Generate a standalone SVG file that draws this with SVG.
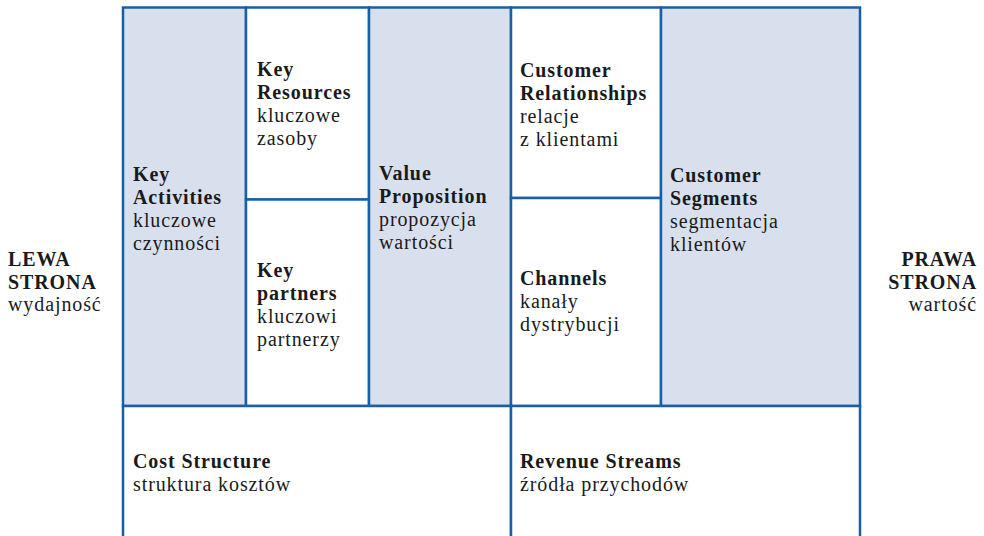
<svg xmlns="http://www.w3.org/2000/svg" width="984" height="536" viewBox="0 0 984 536" font-family="'Liberation Serif', 'DejaVu Serif', serif">
  <style>
    .cell { stroke: #1860a6; stroke-width: 2.5; }
    .tint { fill: #d9e0ed; }
    .plain { fill: #ffffff; }
    .t { font-family: 'Liberation Serif', 'Times New Roman', serif; font-size: 20px; fill: #1a1a1a; letter-spacing: 0.9px; }
    .b { font-weight: bold; }
    .r { text-anchor: end; }
  </style>
  <rect width="984" height="536" fill="#ffffff"/>

  <!-- canvas blocks -->
  <g id="key-activities">
    <rect class="cell tint" x="123" y="7.5" width="123" height="398.5"/>
    <text x="133" y="181" class="t b">Key</text>
    <text x="133" y="204" class="t b">Activities</text>
    <text x="133" y="227" class="t">kluczowe</text>
    <text x="133" y="250" class="t">czynności</text>
  </g>
  <g id="key-resources">
    <rect class="cell plain" x="246" y="7.5" width="123" height="192"/>
    <text x="257" y="76" class="t b">Key</text>
    <text x="257" y="99" class="t b">Resources</text>
    <text x="257" y="122" class="t">kluczowe</text>
    <text x="257" y="145" class="t">zasoby</text>
  </g>
  <g id="key-partners">
    <rect class="cell plain" x="246" y="199.5" width="123" height="206.5"/>
    <text x="257" y="277" class="t b">Key</text>
    <text x="257" y="300" class="t b">partners</text>
    <text x="257" y="323" class="t">kluczowi</text>
    <text x="257" y="346" class="t">partnerzy</text>
  </g>
  <g id="value-proposition">
    <rect class="cell tint" x="369" y="7.5" width="142" height="398.5"/>
    <text x="379" y="180" class="t b">Value</text>
    <text x="379" y="203" class="t b">Proposition</text>
    <text x="379" y="226" class="t">propozycja</text>
    <text x="379" y="249" class="t">wartości</text>
  </g>
  <g id="customer-relationships">
    <rect class="cell plain" x="511" y="7.5" width="150" height="190.5"/>
    <text x="520" y="77" class="t b">Customer</text>
    <text x="520" y="100" class="t b">Relationships</text>
    <text x="520" y="123" class="t">relacje</text>
    <text x="520" y="146" class="t">z klientami</text>
  </g>
  <g id="channels">
    <rect class="cell plain" x="511" y="198" width="150" height="208"/>
    <text x="520" y="285" class="t b">Channels</text>
    <text x="520" y="308" class="t">kanały</text>
    <text x="520" y="331" class="t">dystrybucji</text>
  </g>
  <g id="customer-segments">
    <rect class="cell tint" x="661" y="7.5" width="199" height="398.5"/>
    <text x="670" y="182" class="t b">Customer</text>
    <text x="670" y="205" class="t b">Segments</text>
    <text x="670" y="228" class="t">segmentacja</text>
    <text x="670" y="251" class="t">klientów</text>
  </g>
  <g id="cost-structure">
    <rect class="cell plain" x="123" y="406" width="388" height="140"/>
    <text x="133" y="468" class="t b">Cost Structure</text>
    <text x="133" y="491" class="t">struktura kosztów</text>
  </g>
  <g id="revenue-streams">
    <rect class="cell plain" x="511" y="406" width="349" height="140"/>
    <text x="520" y="468" class="t b">Revenue Streams</text>
    <text x="520" y="491" class="t">źródła przychodów</text>
  </g>

  <!-- side labels -->
  <g id="left-side">
    <text x="8" y="266" class="t b">LEWA</text>
    <text x="8" y="289" class="t b">STRONA</text>
    <text x="8" y="311" class="t">wydajność</text>
  </g>
  <g id="right-side">
    <text x="977" y="266" class="t b r">PRAWA</text>
    <text x="977" y="289" class="t b r">STRONA</text>
    <text x="977" y="311" class="t r">wartość</text>
  </g>

  <g id="connectors"/>
</svg>
